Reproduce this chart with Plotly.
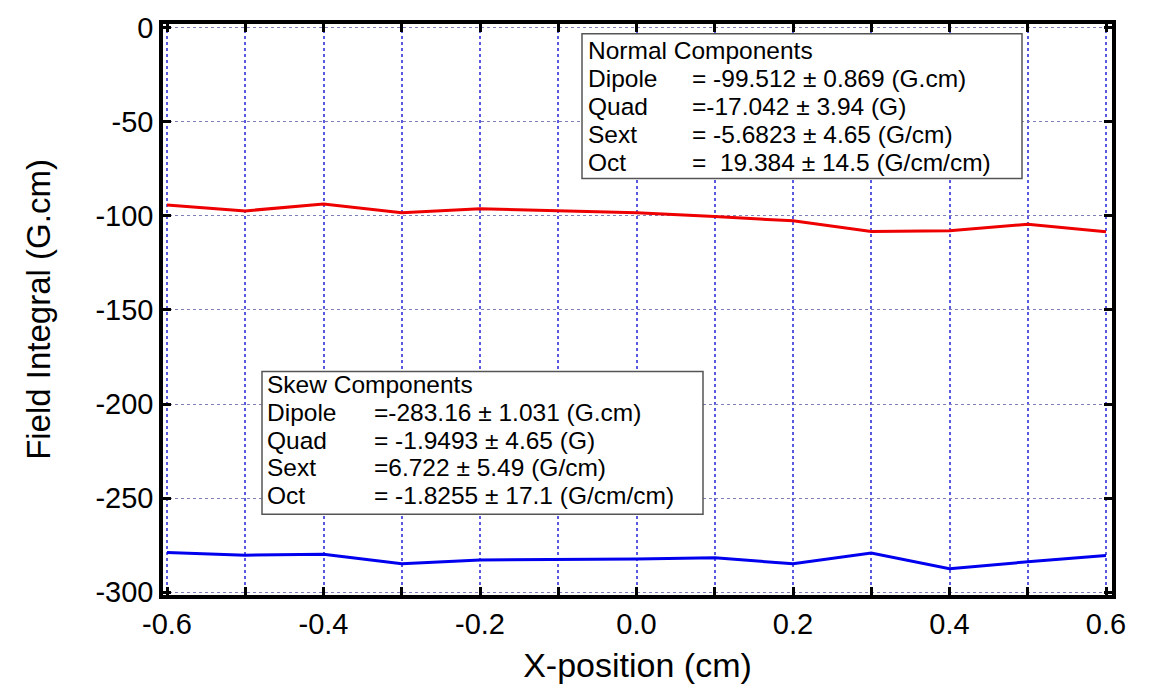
import plotly.graph_objects as go

# ---- data ----
x_pos = [-0.6, -0.5, -0.4, -0.3, -0.2, -0.1, 0.0, 0.1, 0.2, 0.3, 0.4, 0.5, 0.6]
normal_vals = [-94.2, -97.3, -93.6, -98.3, -96.2, -97.3, -98.3, -100.3, -102.6, -108.2, -107.8, -104.4, -108.4]
skew_vals = [-279.0, -280.4, -279.9, -284.9, -282.9, -282.7, -282.4, -281.8, -285.0, -279.3, -287.6, -283.9, -280.6]

x_tick_vals = [-0.6, -0.5, -0.4, -0.3, -0.2, -0.1, 0.0, 0.1, 0.2, 0.3, 0.4, 0.5, 0.6]
x_tick_text = ["-0.6", "", "-0.4", "", "-0.2", "", "0.0", "", "0.2", "", "0.4", "", "0.6"]
y_tick_vals = [0, -50, -100, -150, -200, -250, -300]
y_tick_text = ["0", "-50", "-100", "-150", "-200", "-250", "-300"]

normal_labels = ["Normal Components", "Dipole", "Quad", "Sext", "Oct"]
normal_values = ["", "= -99.512 \u00b1 0.869 (G.cm)", "=-17.042 \u00b1 3.94 (G)",
                 "= -5.6823 \u00b1 4.65 (G/cm)", "=\u00a0 19.384 \u00b1 14.5 (G/cm/cm)"]
skew_labels = ["Skew Components", "Dipole", "Quad", "Sext", "Oct"]
skew_values = ["", "=-283.16 \u00b1 1.031 (G.cm)", "= -1.9493 \u00b1 4.65 (G)",
               "=6.722 \u00b1 5.49 (G/cm)", "= -1.8255 \u00b1 17.1 (G/cm/cm)"]

# ---- layout geometry (pixels) ----
W, H = 1152, 691
ML, MR, MT, MB = 163, 40, 15, 96
PW, PH = W - ML - MR, H - MT - MB


def px_x(p):
    return (p - ML) / PW


def px_y(p):
    return 1 - (p - MT) / PH


FONT = "Liberation Sans, Arial, sans-serif"
BOX_FONT = 24.5

fig = go.Figure()
fig.add_trace(go.Scatter(x=x_pos, y=normal_vals, mode="lines",
                         line=dict(color="#ee0000", width=3), name="Normal"))
fig.add_trace(go.Scatter(x=x_pos, y=skew_vals, mode="lines",
                         line=dict(color="#0000ee", width=3), name="Skew"))

# text boxes
boxes = [
    dict(x0=582, x1=1022, y0=25, y1=172, lab_x=586, val_x=690, y_first=42,
         labels=normal_labels, values=normal_values),
    dict(x0=262, x1=703, y0=368, y1=513, lab_x=265, val_x=372, y_first=381,
         labels=skew_labels, values=skew_values),
]
shapes = []
annotations = []
for b in boxes:
    shapes.append(dict(type="rect", xref="paper", yref="paper",
                       x0=px_x(b["x0"]), x1=px_x(b["x1"]),
                       y0=px_y(b["y1"]), y1=px_y(b["y0"]),
                       line=dict(color="#555555", width=1.5),
                       fillcolor="white", layer="above"))
    for i, (lab, val) in enumerate(zip(b["labels"], b["values"])):
        yy = px_y(b["y_first"] + i * 28.3)
        annotations.append(dict(xref="paper", yref="paper", x=px_x(b["lab_x"]), y=yy,
                                xanchor="left", yanchor="middle", text=lab, showarrow=False,
                                font=dict(family=FONT, size=BOX_FONT, color="black")))
        if val:
            annotations.append(dict(xref="paper", yref="paper", x=px_x(b["val_x"]), y=yy,
                                    xanchor="left", yanchor="middle", text=val, showarrow=False,
                                    font=dict(family=FONT, size=BOX_FONT, color="black")))

fig.update_layout(
    width=W, height=H,
    margin=dict(l=ML, r=MR, t=MT, b=MB, pad=0),
    paper_bgcolor="white", plot_bgcolor="white",
    showlegend=False,
    font=dict(family=FONT, color="black"),
    shapes=shapes, annotations=annotations,
)

fig.update_xaxes(
    range=[-0.6 - 4 / 782.5, 0.6 + 6 / 782.5],
    tickvals=x_tick_vals, ticktext=x_tick_text,
    ticks="inside", ticklen=8, tickwidth=3, tickcolor="black",
    showline=True, linewidth=3.5, linecolor="black", mirror="ticks",
    showgrid=True, gridcolor="#5a5ae0", gridwidth=2, griddash="dot",
    zeroline=False,
    tickfont=dict(family=FONT, size=29, color="black"),
    title=dict(text="X-position (cm)", font=dict(family=FONT, size=34, color="black"), standoff=16),
)
fig.update_yaxes(
    range=[-300 - 3 / 1.91, 4 / 1.91],
    tickvals=y_tick_vals, ticktext=y_tick_text,
    ticks="inside", ticklen=8, tickwidth=3, tickcolor="black",
    showline=True, linewidth=3.5, linecolor="black", mirror="ticks",
    showgrid=True, gridcolor="#8080b8", gridwidth=1, griddash="dot",
    zeroline=False,
    tickfont=dict(family=FONT, size=29, color="black"),
    title=dict(text="Field Integral (G.cm)", font=dict(family=FONT, size=33, color="black"), standoff=36),
)

fig.write_html("out.html")
